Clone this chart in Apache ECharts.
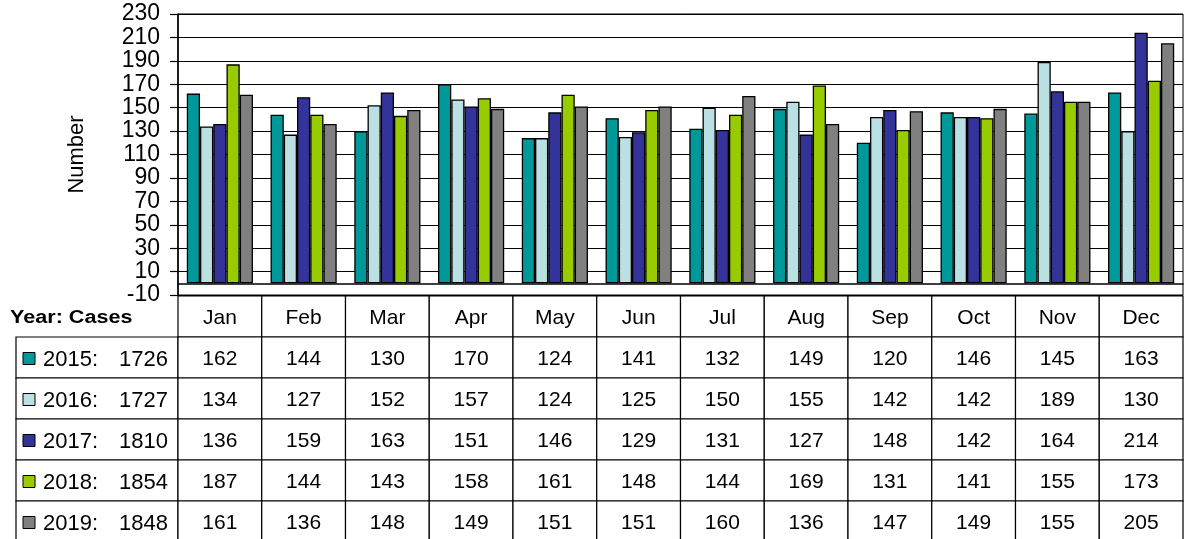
<!DOCTYPE html>
<html>
<head>
<meta charset="utf-8">
<script src="https://cdn.jsdelivr.net/npm/echarts@6/dist/echarts.min.js"></script>
<style>
  html, body { margin: 0; padding: 0; background: #fff; }
  #chart { width: 1189px; height: 539px; }
</style>
</head>
<body>
<div id="chart"></div>
<script>
// data
const months = ['Jan', 'Feb', 'Mar', 'Apr', 'May', 'Jun', 'Jul', 'Aug', 'Sep', 'Oct', 'Nov', 'Dec']
const years = ['2015', '2016', '2017', '2018', '2019']
const totals = [1726, 1727, 1810, 1854, 1848]
const cases2015 = [162, 144, 130, 170, 124, 141, 132, 149, 120, 146, 145, 163]
const cases2016 = [134, 127, 152, 157, 124, 125, 150, 155, 142, 142, 189, 130]
const cases2017 = [136, 159, 163, 151, 146, 129, 131, 127, 148, 142, 164, 214]
const cases2018 = [187, 144, 143, 158, 161, 148, 144, 169, 131, 141, 155, 173]
const cases2019 = [161, 136, 148, 149, 151, 151, 160, 136, 147, 149, 155, 205]
const yTicks = { min: -10, max: 230, step: 20 }

const allCases = [cases2015, cases2016, cases2017, cases2018, cases2019]
const colors = ['#009999', '#bbe0e3', '#333399', '#99cc00', '#808080']

// plot area geometry (px)
const gridLeft = 178
const gridTop = 14
const gridWidth = 1005
const gridHeight = 281
const tableTop = gridTop + gridHeight + 1
const rowH = 41
const legendLeft = 16
const font = 'Liberation Sans, Arial, sans-serif'

const chart = echarts.init(document.getElementById('chart'))

// table drawn as graphic elements
function buildTable() {
  const els = []
  const colW = gridWidth / months.length
  const cellStyle = { fill: '#fff', stroke: '#000', lineWidth: 1.2 }

  // header row with month names
  months.forEach((m, i) => {
    els.push({
      type: 'rect',
      shape: { x: gridLeft + i * colW, y: tableTop, width: colW, height: rowH },
      style: cellStyle
    })
    els.push({
      type: 'text',
      x: gridLeft + (i + 0.5) * colW,
      y: tableTop + rowH / 2 + 2,
      style: { text: m, font: '21px ' + font, fill: '#000', align: 'center', verticalAlign: 'middle' }
    })
  })

  els.push({
    type: 'text',
    x: 10,
    y: tableTop + rowH / 2 + 2,
    scaleX: 1.2,
    style: { text: 'Year: Cases', font: 'bold 18px ' + font, fill: '#000', align: 'left', verticalAlign: 'middle' }
  })

  years.forEach((yr, r) => {
    const y0 = tableTop + rowH * (r + 1)
    // legend cell
    els.push({
      type: 'rect',
      shape: { x: legendLeft, y: y0, width: gridLeft - legendLeft, height: rowH },
      style: cellStyle
    })
    els.push({
      type: 'rect',
      shape: { x: 23, y: y0 + rowH / 2 - 5, width: 12, height: 12 },
      style: { fill: colors[r], stroke: '#000', lineWidth: 1 }
    })
    els.push({
      type: 'text',
      x: 43,
      y: y0 + rowH / 2 + 2,
      style: { text: yr + ':', font: '22px ' + font, fill: '#000', align: 'left', verticalAlign: 'middle' }
    })
    els.push({
      type: 'text',
      x: 168,
      y: y0 + rowH / 2 + 2,
      style: { text: String(totals[r]), font: '22px ' + font, fill: '#000', align: 'right', verticalAlign: 'middle' }
    })
    // values
    allCases[r].forEach((v, i) => {
      els.push({
        type: 'rect',
        shape: { x: gridLeft + i * colW, y: y0, width: colW, height: rowH },
        style: cellStyle
      })
      els.push({
        type: 'text',
        x: gridLeft + (i + 0.5) * colW,
        y: y0 + rowH / 2 + 2,
        style: { text: String(v), font: '21px ' + font, fill: '#000', align: 'center', verticalAlign: 'middle' }
      })
    })
  })
  return els
}

const series = years.map((yr, i) => ({
  name: yr,
  type: 'bar',
  data: allCases[i],
  barGap: '0%',
  barCategoryGap: '21%',
  itemStyle: {
    color: colors[i],
    borderColor: '#000',
    borderWidth: 1.3
  }
}))

const option = {
  animation: false,
  backgroundColor: '#fff',
  grid: {
    left: gridLeft,
    top: gridTop,
    width: gridWidth,
    height: gridHeight,
    show: true,
    borderColor: '#000',
    borderWidth: 1,
    containLabel: false
  },
  xAxis: {
    type: 'category',
    data: months,
    axisLine: { lineStyle: { color: '#000', width: 1.5 } },
    axisTick: { show: false },
    axisLabel: { show: false },
    splitLine: { show: false }
  },
  yAxis: {
    type: 'value',
    min: yTicks.min,
    max: yTicks.max,
    interval: yTicks.step,
    name: 'Number',
    nameLocation: 'middle',
    nameGap: 90,
    nameTextStyle: { fontFamily: font, fontSize: 22, color: '#000' },
    axisLine: { show: true, lineStyle: { color: '#000', width: 1.5 } },
    axisTick: { show: true, length: 8, lineStyle: { color: '#000', width: 1.2 } },
    axisLabel: { color: '#000', fontFamily: font, fontSize: 23, margin: 18 },
    splitLine: { lineStyle: { color: '#000', width: 1.2 } }
  },
  series: series,
  graphic: buildTable()
}

chart.setOption(option)
</script>
</body>
</html>
